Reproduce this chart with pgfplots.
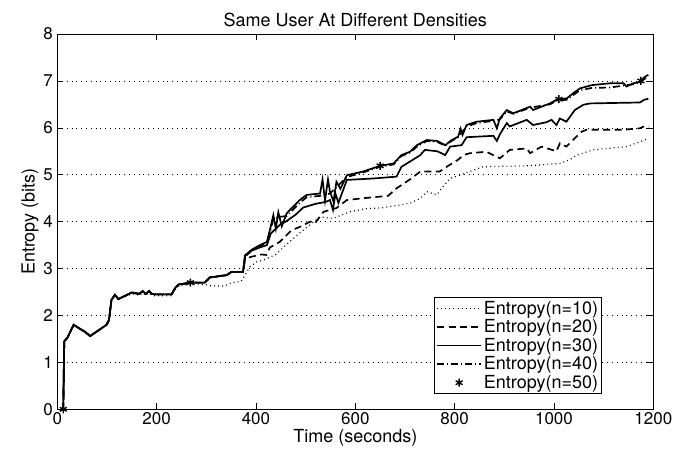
\documentclass[border=0pt]{standalone}
\usepackage{fontspec}
\setmainfont{TeX Gyre Heros}
\usepackage{pgfplots}
\pgfplotsset{compat=1.18}
\begin{document}
\begin{tikzpicture}
\begin{axis}[
  scale only axis, width=596bp, height=375.3bp,
  xmin=0, xmax=1200, ymin=0, ymax=8,
  xtick={0,200,...,1200}, ytick={0,1,...,8},
  tick align=inside, major tick length=6bp,
  xtick pos=both, ytick pos=both,
  tick style={black, line width=0.6pt},
  ymajorgrids,
  grid style={black, line width=0.5pt, dash pattern=on 0.6pt off 4.2pt},
  axis line style={line width=0.9pt},
  /pgf/number format/assume math mode=true,
  /pgf/number format/1000 sep={},
  tick label style={font=\fontsize{17bp}{19bp}\selectfont},
  yticklabel style={xshift=-1bp},
  xlabel={Time (seconds)}, ylabel={Entropy (bits)},
  label style={font=\fontsize{18bp}{20bp}\selectfont},
  xlabel style={yshift=3bp},
  ylabel style={yshift=-2bp},
  title={Same User At Different Densities},
  title style={font=\fontsize{18bp}{20bp}\selectfont, yshift=-2bp},
  legend style={at={(0.914,0.041)}, anchor=south east, draw=black, line width=0.8pt,
    fill=white, font=\fontsize{18bp}{18bp}\selectfont, inner sep=1.5bp,
    row sep=0bp},
  legend cell align=left,
  legend image code/.code={\draw[mark repeat=2,mark phase=2,#1] plot coordinates {(0bp,0bp) (22bp,0bp) (44bp,0bp)};},
]
% n=10 dotted
\addplot[black, line width=1.2pt, dash pattern=on 0.9pt off 3.2pt] coordinates {
(12,0) (14,1.45) (20,1.52) (33,1.8) (45,1.72) (56,1.65) (66,1.56) (99,1.8) (104,1.9) (109,2.33) (116,2.44) (123,2.35) (150,2.46) (165,2.43) (172,2.48) (178,2.43) (185,2.48) (190,2.43) (197,2.42) (230,2.42) (237,2.55) (244,2.63) (270,2.66) (297,2.66)
(310,2.63) (337,2.63) (351,2.7) (370,2.72) (388,3.04) (401,3.14) (415,3.18) (440,3.3) (460,3.5) (495,3.82) (529,4.1) (555,4.07) (589,4.21) (623,4.28) (650,4.29) (710,4.39) (731,4.50) (744,4.64) (764,4.57) (777,4.75) (791,4.92) (831,5.07) (857,5.17) (945,5.19) (1012,5.24) (1032,5.32) (1046,5.42) (1079,5.53) (1146,5.6) (1183,5.74) (1190,5.78)};
\addlegendentry{Entropy(n=10)}
% n=20 dashed
\addplot[black, line width=1.7pt, dash pattern=on 7pt off 4.5pt] coordinates {
(12,0) (14,1.45) (20,1.52) (33,1.8) (45,1.72) (56,1.65) (66,1.56) (99,1.8) (104,1.9) (109,2.33) (116,2.44) (123,2.35) (150,2.49) (165,2.46) (172,2.52) (178,2.46) (185,2.52) (190,2.46) (197,2.45) (230,2.45) (237,2.58) (244,2.66) (270,2.70) (297,2.70) (307,2.81) (341,2.86) (351,2.93) (374,2.93)
(378,3.2) (390,3.25) (411,3.3) (421,3.29) (428,3.45) (448,3.57) (472,3.82) (489,3.89) (509,4.0) (519,3.97) (536,4.21) (549,4.25) (562,4.29) (583,4.46) (616,4.50) (666,4.55) (683,4.71) (710,4.90) (731,5.07) (750,5.07) (770,5.07) (787,5.19) (807,5.32) (818,5.42) (831,5.46) (864,5.49) (891,5.35) (911,5.53) (945,5.56) (952,5.46) (975,5.6) (1005,5.50) (1012,5.67) (1025,5.60) (1042,5.78) (1056,5.92) (1066,5.96) (1140,5.96) (1173,5.99) (1183,6.04) (1190,6.02)};
\addlegendentry{Entropy(n=20)}
% n=30 solid
\addplot[black, line width=1.7pt] coordinates {
(12,0) (14,1.45) (20,1.52) (33,1.8) (45,1.72) (56,1.65) (66,1.56) (99,1.8) (104,1.9) (109,2.33) (116,2.44) (123,2.35) (150,2.49) (165,2.46) (172,2.52) (178,2.46) (185,2.52) (190,2.46) (197,2.45) (230,2.45) (237,2.58) (244,2.66) (270,2.70) (297,2.70) (307,2.81) (341,2.86) (351,2.93) (374,2.93)
(378,3.28) (391,3.38) (408,3.45) (422,3.5) (430,3.75) (440,3.85) (450,3.95) (460,4.0) (480,4.15) (495,4.3) (520,4.38) (540,4.42) (549,4.46) (555,4.25) (560,4.6) (566,4.4) (583,4.89) (636,4.92) (683,4.96) (693,5.17) (710,5.28) (731,5.42) (740,5.53) (765,5.5) (781,5.42) (791,5.6) (814,5.63) (824,5.8) (878,5.83) (885,5.72) (891,5.86) (905,6.1) (911,6.03) (945,6.17) (958,6.06) (985,6.12) (995,6.17) (1005,6.06) (1012,6.2) (1025,6.13) (1042,6.38) (1059,6.49) (1072,6.52) (1120,6.53) (1173,6.54) (1182,6.6) (1190,6.62)};
\addlegendentry{Entropy(n=30)}
% n=40 dash-dot
\addplot[black, line width=1.7pt, dash pattern=on 7pt off 3pt on 1pt off 3pt] coordinates {
(12,0) (14,1.45) (20,1.52) (33,1.8) (45,1.72) (56,1.65) (66,1.56) (99,1.8) (104,1.9) (109,2.33) (116,2.44) (123,2.35) (150,2.49) (165,2.46) (172,2.52) (178,2.46) (185,2.52) (190,2.46) (197,2.45) (230,2.45) (237,2.58) (244,2.66) (270,2.70) (297,2.70) (307,2.81) (341,2.86) (351,2.93) (374,2.93)
(378,3.25) (391,3.38) (408,3.48) (422,3.55) (428,3.78) (435,4.05) (445,4.1) (462,4.12) (488,4.4) (502,4.52) (529,4.55) (549,4.6) (583,4.95) (616,5.05) (650,5.17) (677,5.22) (693,5.40) (710,5.47) (724,5.6) (744,5.72) (765,5.70) (781,5.62) (794,5.72) (807,5.8) (824,6.03) (844,6.1) (878,6.15) (891,6.18) (905,6.35) (918,6.3) (952,6.43) (992,6.5) (1005,6.58) (1026,6.6) (1039,6.7) (1052,6.8) (1076,6.85) (1113,6.86) (1140,6.9) (1160,6.93) (1173,6.97) (1190,7.1)};
\addlegendentry{Entropy(n=40)}
% n=50 line
\addplot[black, line width=1.7pt, forget plot] coordinates {
(12,0) (14,1.45) (20,1.52) (33,1.8) (45,1.72) (56,1.65) (66,1.56) (99,1.8) (104,1.9) (109,2.33) (116,2.44) (123,2.35) (150,2.49) (165,2.46) (172,2.52) (178,2.46) (185,2.52) (190,2.46) (197,2.45) (230,2.45) (237,2.58) (244,2.66) (270,2.70) (297,2.70) (307,2.81) (341,2.86) (351,2.93) (374,2.93)
(378,3.28) (391,3.40) (408,3.5) (422,3.57) (428,3.82) (435,4.14) (440,3.85) (445,4.2) (452,3.9) (462,4.18) (488,4.46) (502,4.57) (529,4.6) (534,4.9) (539,4.45) (545,4.9) (549,4.64) (556,4.43) (562,4.85) (570,4.7) (583,4.99) (616,5.07) (650,5.19) (677,5.24) (693,5.42) (710,5.49) (724,5.63) (744,5.74) (765,5.72) (781,5.63) (794,5.74) (807,5.81) (812,5.98) (816,5.85) (824,6.06) (844,6.13) (878,6.17) (885,5.99) (891,6.2) (905,6.38) (918,6.31) (952,6.45) (958,6.38) (992,6.52) (1005,6.6) (1026,6.63) (1039,6.74) (1052,6.84) (1076,6.91) (1113,6.95) (1140,6.95) (1146,6.88) (1160,6.95) (1173,6.98) (1182,7.08) (1190,7.13)};
% n=50 markers
\addplot[black, only marks, mark=asterisk, mark size=4bp, mark options={line width=1.4pt}] coordinates {
(12,0) (268,2.70) (650,5.19) (1010,6.61) (1175,7.0)};
\addlegendentry{Entropy(n=50)}
\coordinate (bl) at (rel axis cs:0,0);
\end{axis}
\path (bl) ++(-57.3bp,-45.7bp) rectangle ++(677bp,455bp);
\end{tikzpicture}
\end{document}
